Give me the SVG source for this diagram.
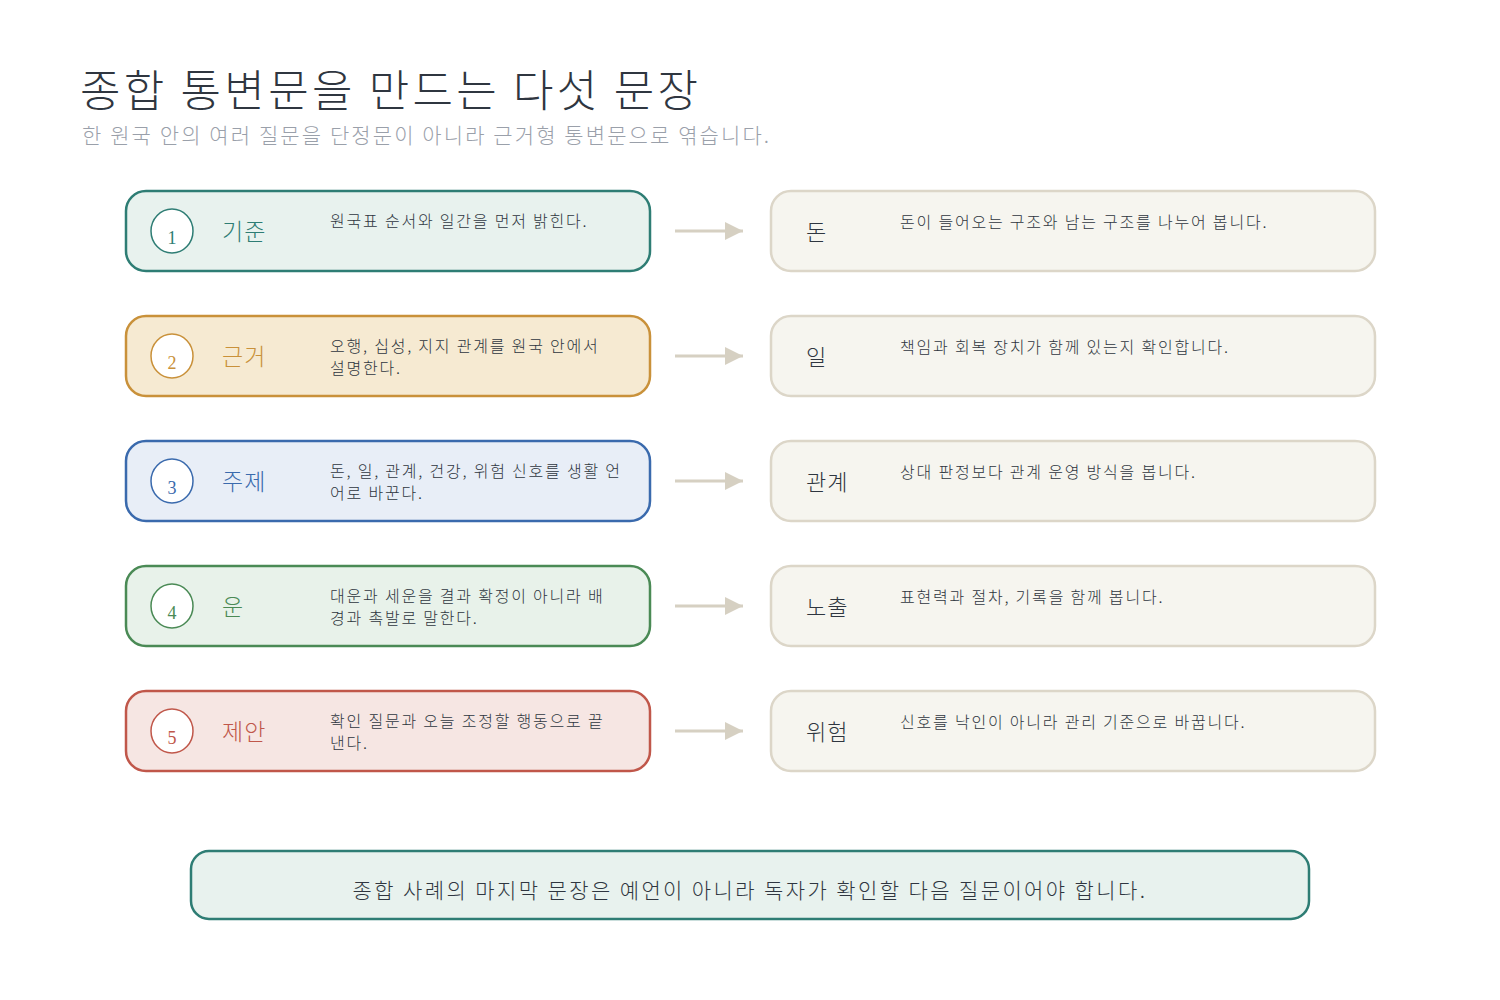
<svg xmlns="http://www.w3.org/2000/svg" width="1500" height="1000" viewBox="0 0 1500 1000">
<style>
text{font-family:"Noto Sans CJK KR","Noto Sans",sans-serif;font-weight:300}
.num{font-family:"Liberation Serif",serif;font-size:18px;text-anchor:middle}
.lab{font-size:23px;letter-spacing:1px}
.desc{font-size:16px;fill:#2f3640;letter-spacing:1.8px}
.rb{fill:#f6f5ef;stroke:#dcd6c8;stroke-width:2.5}
.rl{font-size:22px;fill:#2f3640;letter-spacing:1px}
.circ{fill:#fff;stroke-width:1.5}
.ar{stroke:#d6d0c2;stroke-width:3;fill:none}
</style>
<defs><marker id="ah" markerWidth="18" markerHeight="18" refX="18" refY="9" orient="auto" markerUnits="userSpaceOnUse" viewBox="0 0 18 18"><path d="M0,0L18,9L0,18z" fill="#d6d0c2"/></marker></defs>
<rect width="1500" height="1000" fill="#fff"/>
<text x="80" y="107" font-size="44" fill="#2f3640" letter-spacing="3.3">종합 통변문을 만드는 다섯 문장</text>
<text x="82" y="143" font-size="21" fill="#9aa0aa" letter-spacing="2.1">한 원국 안의 여러 질문을 단정문이 아니라 근거형 통변문으로 엮습니다.</text>
<g id="connectors">
<line class="ar" x1="675" y1="231" x2="743" y2="231" marker-end="url(#ah)"/>
<line class="ar" x1="675" y1="356" x2="743" y2="356" marker-end="url(#ah)"/>
<line class="ar" x1="675" y1="481" x2="743" y2="481" marker-end="url(#ah)"/>
<line class="ar" x1="675" y1="606" x2="743" y2="606" marker-end="url(#ah)"/>
<line class="ar" x1="675" y1="731" x2="743" y2="731" marker-end="url(#ah)"/>
</g>
<g id="n1"><rect x="126" y="191" width="524" height="80" rx="20" fill="#e8f2ee" stroke="#2e7d74" stroke-width="2.5"/><ellipse class="circ" cx="172" cy="231" rx="21" ry="22" stroke="#2e7d74"/><text class="num" x="172" y="244" fill="#2e7d74">1</text><text class="lab" x="222" y="240" fill="#2e7d74">기준</text><text class="desc" x="330" y="227">원국표 순서와 일간을 먼저 밝힌다.</text></g>
<g id="n2"><rect x="126" y="316" width="524" height="80" rx="20" fill="#f6ead2" stroke="#c9913a" stroke-width="2.5"/><ellipse class="circ" cx="172" cy="356" rx="21" ry="22" stroke="#c9913a"/><text class="num" x="172" y="369" fill="#c9913a">2</text><text class="lab" x="222" y="365" fill="#c9913a">근거</text><text class="desc" x="330" y="352">오행, 십성, 지지 관계를 원국 안에서</text><text class="desc" x="330" y="374">설명한다.</text></g>
<g id="n3"><rect x="126" y="441" width="524" height="80" rx="20" fill="#e8eef7" stroke="#3a6aad" stroke-width="2.5"/><ellipse class="circ" cx="172" cy="481" rx="21" ry="22" stroke="#3a6aad"/><text class="num" x="172" y="494" fill="#3a6aad">3</text><text class="lab" x="222" y="490" fill="#3a6aad">주제</text><text class="desc" x="330" y="477">돈, 일, 관계, 건강, 위험 신호를 생활 언</text><text class="desc" x="330" y="499">어로 바꾼다.</text></g>
<g id="n4"><rect x="126" y="566" width="524" height="80" rx="20" fill="#e8f2ea" stroke="#4a8a55" stroke-width="2.5"/><ellipse class="circ" cx="172" cy="606" rx="21" ry="22" stroke="#4a8a55"/><text class="num" x="172" y="619" fill="#4a8a55">4</text><text class="lab" x="222" y="615" fill="#4a8a55">운</text><text class="desc" x="330" y="602">대운과 세운을 결과 확정이 아니라 배</text><text class="desc" x="330" y="624">경과 촉발로 말한다.</text></g>
<g id="n5"><rect x="126" y="691" width="524" height="80" rx="20" fill="#f6e6e3" stroke="#c0574a" stroke-width="2.5"/><ellipse class="circ" cx="172" cy="731" rx="21" ry="22" stroke="#c0574a"/><text class="num" x="172" y="744" fill="#c0574a">5</text><text class="lab" x="222" y="740" fill="#c0574a">제안</text><text class="desc" x="330" y="727">확인 질문과 오늘 조정할 행동으로 끝</text><text class="desc" x="330" y="749">낸다.</text></g>
<g id="r1"><rect class="rb" x="771" y="191" width="604" height="80" rx="20"/><text class="rl" x="806" y="240">돈</text><text class="desc" x="900" y="228">돈이 들어오는 구조와 남는 구조를 나누어 봅니다.</text></g>
<g id="r2"><rect class="rb" x="771" y="316" width="604" height="80" rx="20"/><text class="rl" x="806" y="365">일</text><text class="desc" x="900" y="353">책임과 회복 장치가 함께 있는지 확인합니다.</text></g>
<g id="r3"><rect class="rb" x="771" y="441" width="604" height="80" rx="20"/><text class="rl" x="806" y="490">관계</text><text class="desc" x="900" y="478">상대 판정보다 관계 운영 방식을 봅니다.</text></g>
<g id="r4"><rect class="rb" x="771" y="566" width="604" height="80" rx="20"/><text class="rl" x="806" y="615">노출</text><text class="desc" x="900" y="603">표현력과 절차, 기록을 함께 봅니다.</text></g>
<g id="r5"><rect class="rb" x="771" y="691" width="604" height="80" rx="20"/><text class="rl" x="806" y="740">위험</text><text class="desc" x="900" y="728">신호를 낙인이 아니라 관리 기준으로 바꿉니다.</text></g>
<g id="footer"><rect x="191" y="851" width="1118" height="68" rx="18" fill="#e8f2ee" stroke="#2e7d74" stroke-width="2.5"/><text x="750" y="898" font-size="21" fill="#2f3640" text-anchor="middle" letter-spacing="2.4">종합 사례의 마지막 문장은 예언이 아니라 독자가 확인할 다음 질문이어야 합니다.</text></g>
</svg>
